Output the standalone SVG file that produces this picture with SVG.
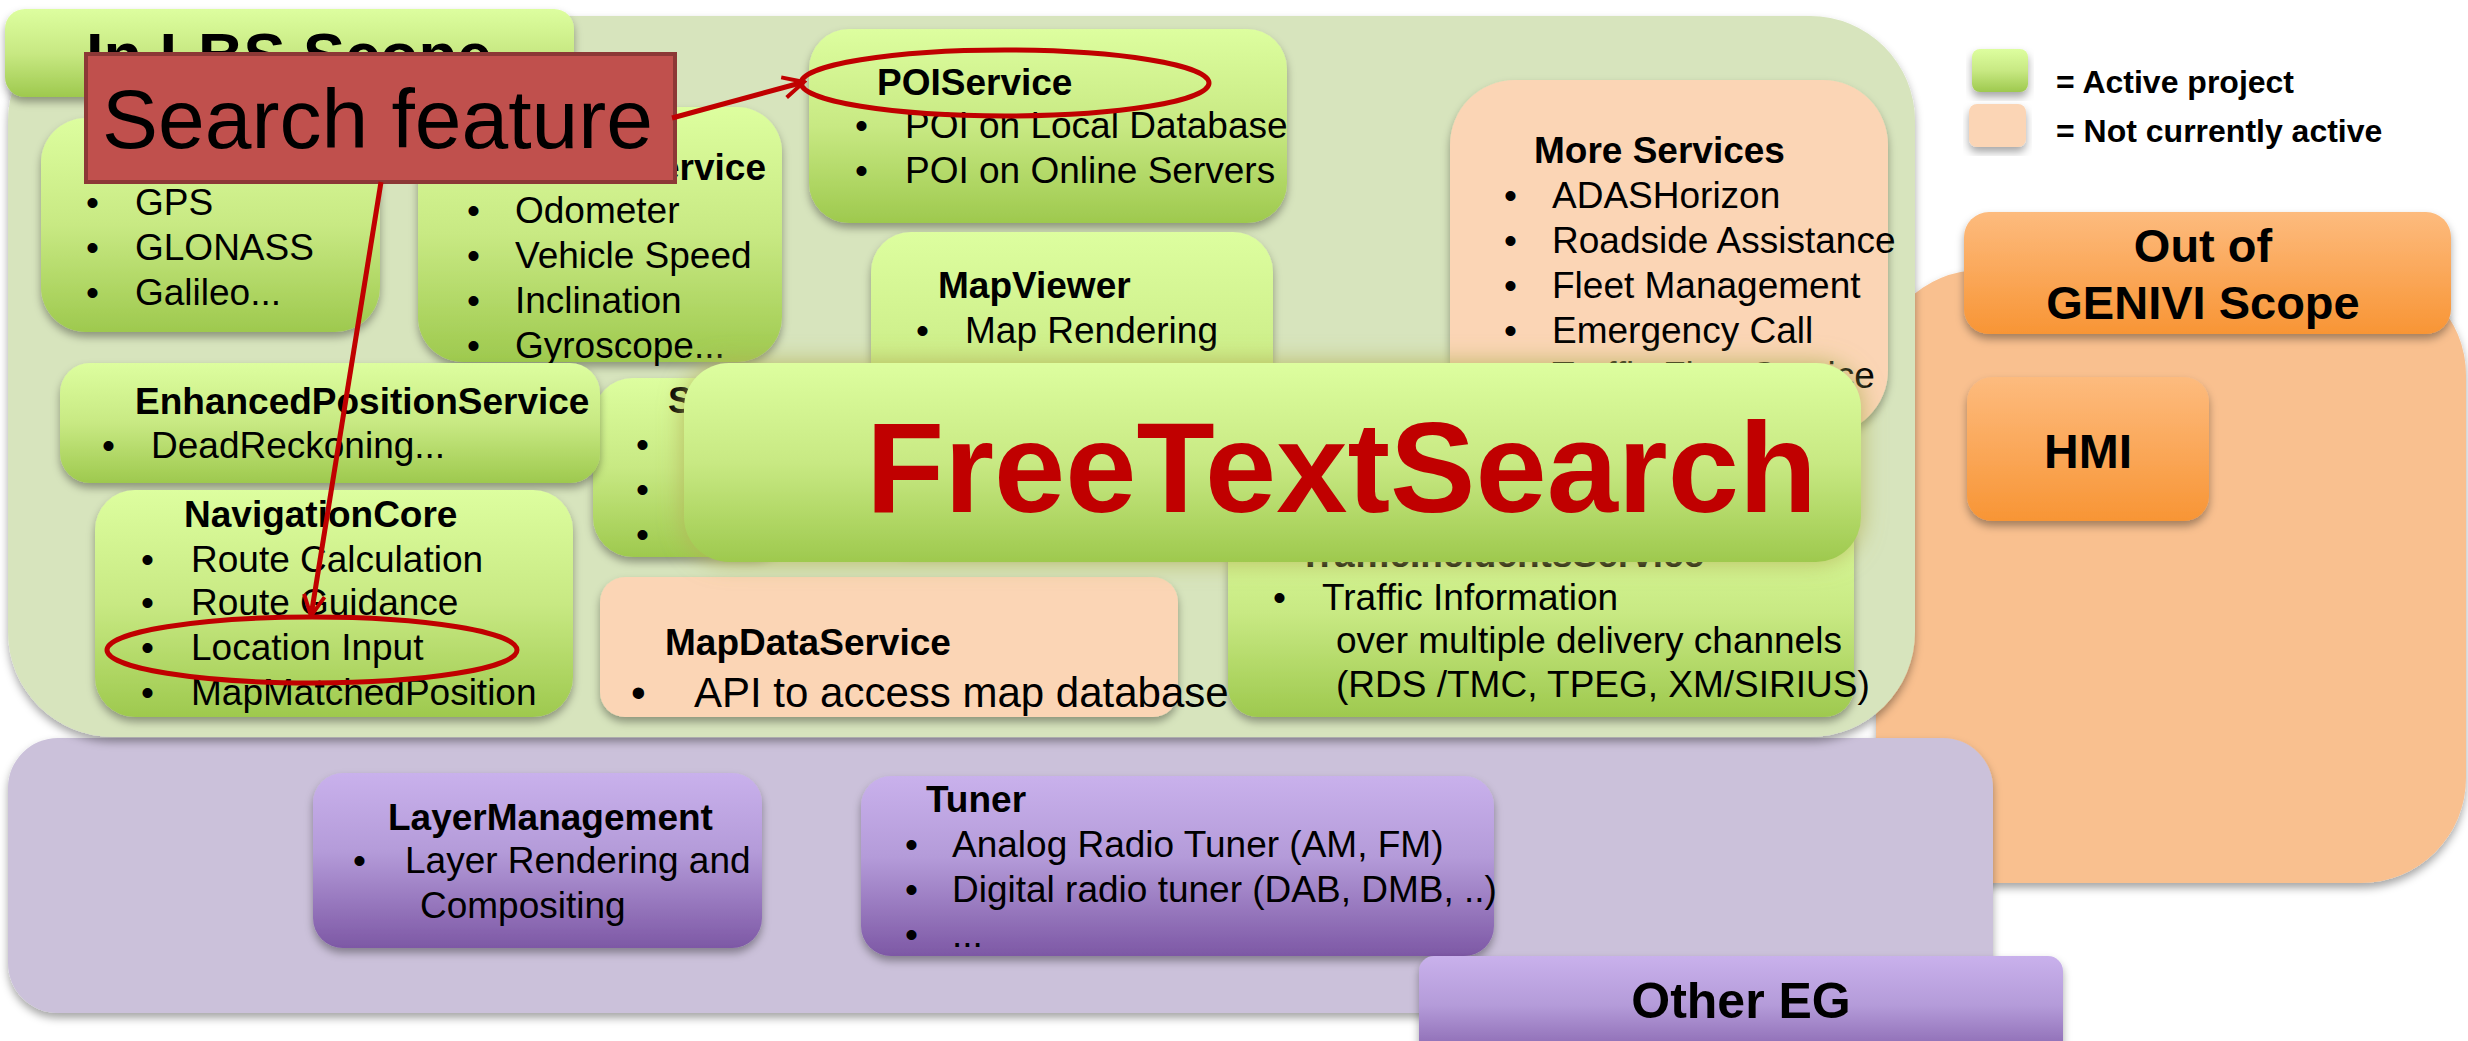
<svg xmlns="http://www.w3.org/2000/svg" width="2468" height="1041" viewBox="0 0 2468 1041">
<defs>
<linearGradient id="gGreen" x1="0" y1="0" x2="0" y2="1">
<stop offset="0" stop-color="#ddfe9f"/>
<stop offset="0.5" stop-color="#c8e983"/>
<stop offset="1" stop-color="#9ec94e"/>
</linearGradient>
<linearGradient id="gPurple" x1="0" y1="0" x2="0" y2="1">
<stop offset="0" stop-color="#c9b1ec"/>
<stop offset="0.45" stop-color="#b49bd9"/>
<stop offset="1" stop-color="#7d58a5"/>
</linearGradient>
<linearGradient id="gOrange" x1="0" y1="0" x2="0" y2="1">
<stop offset="0" stop-color="#fdbb7e"/>
<stop offset="1" stop-color="#f89535"/>
</linearGradient>
<filter id="sh" x="-10%" y="-10%" width="120%" height="130%">
<feDropShadow dx="0" dy="5" stdDeviation="4" flood-color="#000" flood-opacity="0.35"/>
</filter>
<filter id="glow" x="-10%" y="-20%" width="120%" height="140%">
<feGaussianBlur in="SourceAlpha" stdDeviation="12" result="b"/>
<feFlood flood-color="#b4b35a" flood-opacity="0.9"/>
<feComposite in2="b" operator="in" result="g"/>
<feMerge><feMergeNode in="g"/><feMergeNode in="SourceGraphic"/></feMerge>
</filter>
<marker id="arr" viewBox="0 0 20 20" markerWidth="26" markerHeight="26" refX="18" refY="10" orient="auto" markerUnits="userSpaceOnUse">
<path d="M2,2 L18,10 L2,18" fill="none" stroke="#c00000" stroke-width="3"/>
</marker>
<style>
text{font-family:"Liberation Sans",Arial,sans-serif;fill:#000}
.t{font-size:37px;font-weight:bold}
.b{font-size:37px}
.lg{font-size:32px;font-weight:bold}
.gbox{fill:url(#gGreen);filter:url(#sh)}
.pbox{fill:#fbd5b5;filter:url(#sh)}
.vbox{fill:url(#gPurple);filter:url(#sh)}
.obox{fill:url(#gOrange);filter:url(#sh)}
.ring{fill:none;stroke:#c00000;stroke-width:5}
.conn{fill:none;stroke:#c00000;stroke-width:5;marker-end:url(#arr)}
</style>
</defs>
<rect width="2468" height="1041" fill="#fff"/>

<g id="out-of-scope-area"><rect x="1876" y="270" width="590" height="613" rx="105" fill="#f9c08f" filter="url(#sh)"/></g>
<g id="other-eg-area"><rect x="8" y="738" width="1985" height="275" rx="50" fill="#cbc1da" filter="url(#sh)"/></g>
<g id="lbs-scope-area"><rect x="8" y="16" width="1907" height="721" rx="105" fill="#d7e4bd" filter="url(#sh)"/></g>

<g id="lbs-scope-header">
<rect x="5" y="9" width="569" height="88" rx="20" class="gbox"/>
<text x="86" y="77" style="font-size:63px;font-weight:bold">In LBS Scope</text>
</g>

<g id="gnss">
<rect x="41" y="118" width="339" height="214" rx="45" class="gbox"/>
<text class="b" x="86" y="215">•</text><text class="b" x="135" y="215">GPS</text>
<text class="b" x="86" y="260">•</text><text class="b" x="135" y="260">GLONASS</text>
<text class="b" x="86" y="305">•</text><text class="b" x="135" y="305">Galileo...</text>
</g>

<g id="sensors">
<rect x="418" y="107" width="364" height="255" rx="45" class="gbox"/>
<text class="t" x="766" y="180" text-anchor="end">SensorsService</text>
<text class="b" x="467" y="223">•</text><text class="b" x="515" y="223">Odometer</text>
<text class="b" x="467" y="268">•</text><text class="b" x="515" y="268">Vehicle Speed</text>
<text class="b" x="467" y="313">•</text><text class="b" x="515" y="313">Inclination</text>
<text class="b" x="467" y="358">•</text><text class="b" x="515" y="358">Gyroscope...</text>
</g>

<g id="poiservice">
<rect x="809" y="29" width="478" height="194" rx="40" class="gbox"/>
<text class="t" x="877" y="95">POIService</text>
<text class="b" x="855" y="138">•</text><text class="b" x="905" y="138">POI on Local Database</text>
<text class="b" x="855" y="183">•</text><text class="b" x="905" y="183">POI on Online Servers</text>
</g>

<g id="mapviewer">
<rect x="871" y="232" width="402" height="320" rx="40" class="gbox"/>
<text class="t" x="938" y="298">MapViewer</text>
<text class="b" x="916" y="343">•</text><text class="b" x="965" y="343">Map Rendering</text>
</g>

<g id="more-services">
<rect x="1450" y="80" width="438" height="355" rx="65" class="pbox"/>
<text class="t" x="1534" y="163">More Services</text>
<text class="b" x="1504" y="208">•</text><text class="b" x="1552" y="208">ADASHorizon</text>
<text class="b" x="1504" y="253">•</text><text class="b" x="1552" y="253">Roadside Assistance</text>
<text class="b" x="1504" y="298">•</text><text class="b" x="1552" y="298">Fleet Management</text>
<text class="b" x="1504" y="343">•</text><text class="b" x="1552" y="343">Emergency Call</text>
<text class="b" x="1504" y="388">•</text><text class="b" x="1552" y="388">Traffic Flow Service</text>
</g>

<g id="s-box">
<rect x="593" y="378" width="200" height="179" rx="40" class="gbox"/>
<text class="t" x="668" y="413">S</text>
<text class="b" x="636" y="457">•</text>
<text class="b" x="636" y="502">•</text>
<text class="b" x="636" y="547">•</text>
</g>

<g id="enhanced-position-service">
<rect x="60" y="363" width="540" height="120" rx="30" class="gbox"/>
<text class="t" x="135" y="414">EnhancedPositionService</text>
<text class="b" x="102" y="458">•</text><text class="b" x="151" y="458">DeadReckoning...</text>
</g>

<g id="navigation-core">
<rect x="95" y="490" width="478" height="227" rx="40" class="gbox"/>
<text class="t" x="184" y="527">NavigationCore</text>
<text class="b" x="141" y="572">•</text><text class="b" x="191" y="572">Route Calculation</text>
<text class="b" x="141" y="615">•</text><text class="b" x="191" y="615">Route Guidance</text>
<text class="b" x="141" y="660">•</text><text class="b" x="191" y="660">Location Input</text>
<text class="b" x="141" y="705">•</text><text class="b" x="191" y="705">MapMatchedPosition</text>
</g>

<g id="traffic-incidents-service">
<rect x="1228" y="510" width="626" height="207" rx="30" class="gbox"/>
<text class="t" x="1299" y="567">TrafficIncidentsService</text>
<text class="b" x="1273" y="610">•</text><text class="b" x="1322" y="610">Traffic Information</text>
<text class="b" x="1336" y="653">over multiple delivery channels</text>
<text class="b" x="1336" y="697">(RDS /TMC, TPEG, XM/SIRIUS)</text>
</g>

<g id="mapdataservice">
<rect x="600" y="577" width="578" height="140" rx="25" class="pbox"/>
<text class="t" x="665" y="655">MapDataService</text>
<text x="631" y="707" style="font-size:42px">•</text><text x="694" y="707" style="font-size:42px">API to access map database</text>
</g>

<g id="freetextsearch">
<rect x="684" y="363" width="1177" height="199" rx="45" fill="url(#gGreen)" filter="url(#glow)"/>
<text x="866" y="512" style="font-size:128px;font-weight:bold;fill:#c00000">FreeTextSearch</text>
</g>

<g id="search-feature">
<rect x="86" y="54" width="589" height="128" fill="#c0504d" stroke="#8c3836" stroke-width="4"/>
<text x="102" y="148" style="font-size:84px">Search feature</text>
</g>

<g id="highlights">
<ellipse class="ring" cx="1005" cy="83" rx="204" ry="33"/>
<ellipse class="ring" cx="312" cy="650" rx="205" ry="33"/>
</g>

<g id="connectors">
<line class="conn" x1="672" y1="118" x2="804" y2="82"/>
<line class="conn" x1="381" y1="182" x2="311" y2="616"/>
</g>

<g id="legend">
<rect x="1972" y="49" width="56" height="43" rx="8" class="gbox"/>
<rect x="1969" y="104" width="57" height="43" rx="8" class="pbox"/>
<text class="lg" x="2056" y="93">= Active project</text>
<text class="lg" x="2056" y="142">= Not currently active</text>
</g>

<g id="out-of-genivi-scope">
<rect x="1964" y="212" width="487" height="122" rx="25" class="obox"/>
<text x="2203" y="262" text-anchor="middle" style="font-size:47px;font-weight:bold">Out of</text>
<text x="2203" y="319" text-anchor="middle" style="font-size:47px;font-weight:bold">GENIVI Scope</text>
</g>

<g id="hmi">
<rect x="1967" y="377" width="242" height="144" rx="25" class="obox"/>
<text x="2088" y="468" text-anchor="middle" style="font-size:48px;font-weight:bold">HMI</text>
</g>

<g id="layer-management">
<rect x="313" y="773" width="449" height="175" rx="30" class="vbox"/>
<text class="t" x="388" y="830">LayerManagement</text>
<text class="b" x="353" y="873">•</text><text class="b" x="405" y="873">Layer Rendering and</text>
<text class="b" x="420" y="918">Compositing</text>
</g>

<g id="tuner">
<rect x="861" y="776" width="633" height="180" rx="30" class="vbox"/>
<text class="t" x="926" y="812">Tuner</text>
<text class="b" x="905" y="857">•</text><text class="b" x="952" y="857">Analog Radio Tuner (AM, FM)</text>
<text class="b" x="905" y="902">•</text><text class="b" x="952" y="902">Digital radio tuner (DAB, DMB, ..)</text>
<text class="b" x="905" y="947">•</text><text class="b" x="952" y="947">...</text>
</g>

<g id="other-eg">
<rect x="1419" y="956" width="644" height="110" rx="15" class="vbox"/>
<text x="1741" y="1018" text-anchor="middle" style="font-size:50px;font-weight:bold">Other EG</text>
</g>
</svg>
